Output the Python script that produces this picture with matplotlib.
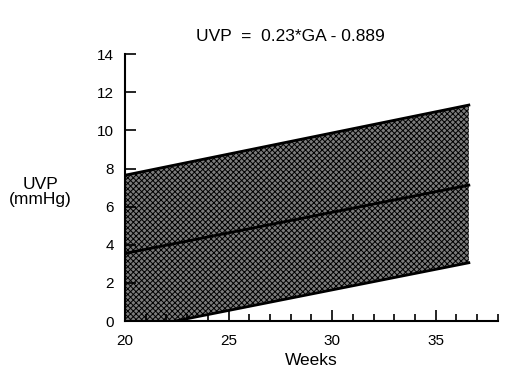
import matplotlib
matplotlib.use("Agg")
import matplotlib.pyplot as plt
import numpy as np
from matplotlib.ticker import MultipleLocator

plt.rcParams["font.family"] = ["Liberation Sans", "DejaVu Sans"]
plt.rcParams["hatch.linewidth"] = 0.7

# Band (weeks -> mmHg)
weeks = [20.0, 36.6]
upper = [7.65, 11.33]
mean = [3.55, 7.13]
lower = [-0.52, 3.06]

fig = plt.figure(figsize=(5.08, 3.76), dpi=100)
ax = fig.add_axes([0.246, 0.146, 0.734, 0.710])

x_fill = np.linspace(weeks[0], weeks[1], 200)
up_f = np.interp(x_fill, weeks, upper)
lo_f = np.clip(np.interp(x_fill, weeks, lower), 0, None)
ax.fill_between(x_fill, lo_f, up_f, facecolor="#7c7c7c", edgecolor="black",
                hatch="xxxxxx", linewidth=0)
ax.plot(weeks, upper, color="black", lw=2)
ax.plot(weeks, mean, color="black", lw=2)
ax.plot(weeks, lower, color="black", lw=2)

ax.set_xlim(20, 38)
ax.set_ylim(0, 14)
ax.spines["top"].set_visible(False)
ax.spines["right"].set_visible(False)
ax.spines["left"].set_linewidth(1.5)
ax.spines["bottom"].set_linewidth(1.5)

ax.set_xticks([20, 25, 30, 35])
ax.xaxis.set_minor_locator(MultipleLocator(1))
ax.yaxis.set_major_locator(MultipleLocator(2))
ax.tick_params(axis="both", which="major", direction="in", length=8,
               width=1.2, labelsize=11, pad=8)
ax.tick_params(axis="x", which="minor", direction="in", length=5, width=1.2)
ax.tick_params(axis="x", which="major", pad=9)

ax.set_xlabel("Weeks", fontsize=12.5, labelpad=4)
fig.text(0.079, 0.49, "UVP\n(mmHg)", ha="center", va="center", fontsize=12.5,
         linespacing=1.0)
fig.text(0.571, 0.902, "UVP  =  0.23*GA - 0.889", ha="center", va="center",
         fontsize=12.5)

fig.savefig("out.png", dpi=100, facecolor="white")
